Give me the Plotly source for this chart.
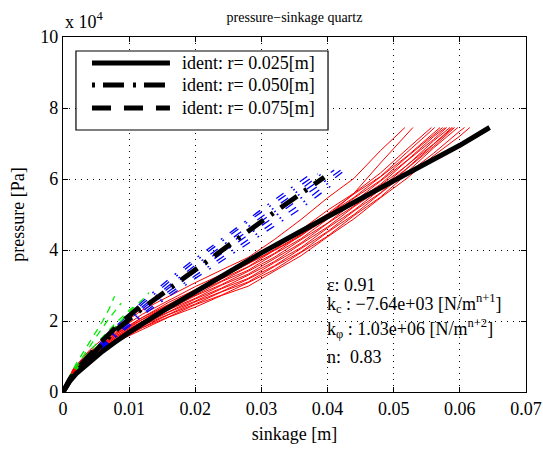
import plotly.graph_objects as go

# ---------------- data (pressure in units of 1e4 Pa) ----------------
red_z = [0, 0.0015, 0.004, 0.008, 0.012, 0.016, 0.020, 0.024, 0.028, 0.032,
         0.036, 0.040, 0.044, 0.048, 0.052, 0.056, 0.060]
red_p = [
    [0, 0.64, 1.18, 1.80, 2.31, 2.70, 3.08, 3.44, 3.79, 4.30, 4.86, 5.47, 6.02, 6.80],
    [0, 0.60, 1.10, 1.70, 2.19, 2.58, 2.97, 3.31, 3.62, 3.99, 4.40, 4.96, 5.60, 6.45],
    [0, 0.62, 1.13, 1.66, 2.10, 2.53, 2.88, 3.30, 3.63, 4.12, 4.57, 5.12, 5.60, 6.17, 6.84],
    [0, 0.60, 1.10, 1.62, 2.10, 2.47, 2.87, 3.22, 3.61, 4.02, 4.54, 5.02, 5.58, 6.07, 6.75, 7.41],
    [0, 0.61, 1.08, 1.63, 2.05, 2.46, 2.80, 3.19, 3.53, 4.00, 4.44, 4.99, 5.48, 6.05, 6.64, 7.29],
    [0, 0.58, 1.09, 1.58, 2.04, 2.41, 2.79, 3.13, 3.51, 3.91, 4.42, 4.89, 5.46, 5.96, 6.62, 7.22],
    [0, 0.59, 1.05, 1.58, 1.99, 2.39, 2.73, 3.11, 3.43, 3.89, 4.32, 4.87, 5.36, 5.94, 6.52, 7.19],
    [0, 0.56, 1.06, 1.54, 1.98, 2.33, 2.71, 3.03, 3.40, 3.80, 4.29, 4.76, 5.34, 5.85, 6.51, 7.11],
    [0, 0.57, 1.03, 1.54, 1.94, 2.32, 2.64, 3.01, 3.32, 3.77, 4.20, 4.75, 5.24, 5.82, 6.38, 7.07],
    [0, 0.54, 1.03, 1.50, 1.93, 2.26, 2.62, 2.93, 3.29, 3.68, 4.17, 4.65, 5.22, 5.72, 6.39, 6.98],
    [0, 0.55, 1.00, 1.49, 1.88, 2.25, 2.56, 2.91, 3.20, 3.65, 4.07, 4.62, 5.12, 5.70, 6.30, 6.97],
    [0, 0.52, 1.00, 1.45, 1.87, 2.19, 2.54, 2.83, 3.18, 3.56, 4.04, 4.52, 5.10, 5.61, 6.29, 6.91],
    [0, 0.53, 0.97, 1.45, 1.82, 2.18, 2.48, 2.82, 3.10, 3.54, 3.95, 4.50, 5.00, 5.59, 6.19, 6.87],
    [0, 0.50, 0.97, 1.41, 1.81, 2.12, 2.46, 2.73, 3.08, 3.45, 3.93, 4.39, 4.97, 5.49, 6.14, 6.72, 7.35],
    [0, 0.51, 0.94, 1.41, 1.76, 2.11, 2.39, 2.72, 2.98, 3.42, 3.84, 4.37, 4.88, 5.47, 6.02, 6.65, 7.21],
]
red_end_z = [0.0517, 0.0529, 0.0557, 0.0562, 0.0570, 0.0574, 0.0578, 0.0580, 0.0585,
             0.0588, 0.0590, 0.0592, 0.0597, 0.0607, 0.0615]
red_end_p = [7.45] * 15

blue_z = [0, 0.0015, 0.004, 0.008, 0.012, 0.016, 0.020, 0.024, 0.028, 0.032, 0.036]
blue_p = [
    [0, 0.50, 1.05, 1.85, 2.55, 3.18, 3.76, 4.32, 4.88, 5.42, 5.95],
    [0, 0.48, 1.00, 1.78, 2.48, 3.10, 3.68, 4.24, 4.80, 5.33, 5.85],
    [0, 0.46, 0.97, 1.72, 2.40, 3.00, 3.57, 4.12, 4.67, 5.20, 5.72],
    [0, 0.45, 0.94, 1.68, 2.34, 2.93, 3.48, 4.02, 4.55, 5.08, 5.60],
    [0, 0.44, 0.92, 1.63, 2.27, 2.84, 3.38, 3.90, 4.42, 4.94, 5.45],
    [0, 0.43, 0.90, 1.58, 2.20, 2.76, 3.28, 3.79, 4.30, 4.80, 5.30],
    [0, 0.42, 0.88, 1.55, 2.15, 2.69, 3.20, 3.70, 4.20, 4.68, 5.17],
]
blue_end_z = [0.0375, 0.0385, 0.0395, 0.0410, 0.0420, 0.0430, 0.0415]
blue_end_p = [6.15, 6.15, 6.20, 6.25, 6.25, 6.30, 5.95]

green_z = [
    [0, 0.001, 0.002, 0.003, 0.004, 0.005, 0.006, 0.007, 0.0078],
    [0, 0.001, 0.002, 0.003, 0.004, 0.005, 0.006, 0.007, 0.008, 0.0088],
    [0, 0.002, 0.004, 0.006, 0.008, 0.010, 0.011],
    [0, 0.002, 0.004, 0.006, 0.008, 0.010, 0.012, 0.013],
]
green_p = [
    [0, 0.45, 0.80, 1.10, 1.40, 1.70, 2.00, 2.35, 2.70],
    [0, 0.40, 0.72, 1.00, 1.28, 1.55, 1.82, 2.08, 2.32, 2.50],
    [0, 0.65, 1.15, 1.55, 1.95, 2.30, 2.45],
    [0, 0.60, 1.05, 1.45, 1.85, 2.25, 2.60, 2.80],
]

fit025_z = [0, 0.001, 0.002, 0.004, 0.006, 0.008, 0.010, 0.015, 0.020, 0.025,
            0.030, 0.035, 0.040, 0.045, 0.050, 0.055, 0.060, 0.0645]
fit025_p = [0, 0.30, 0.52, 0.85, 1.15, 1.42, 1.68, 2.27, 2.83, 3.38,
            3.92, 4.43, 4.95, 5.45, 5.95, 6.45, 6.95, 7.45]
fit050_z = [0, 0.001, 0.002, 0.004, 0.006, 0.008, 0.010, 0.012, 0.016, 0.020,
            0.024, 0.028, 0.032, 0.036, 0.0395]
fit050_p = [0, 0.32, 0.56, 0.98, 1.37, 1.74, 2.06, 2.36, 2.90, 3.43,
            3.97, 4.53, 5.07, 5.60, 6.05]
fit075_z = [0, 0.001, 0.002, 0.004, 0.006, 0.008, 0.010, 0.0125]
fit075_p = [0, 0.35, 0.62, 1.05, 1.45, 1.82, 2.15, 2.55]

legend_names = ["ident: r= 0.025[m]", "ident: r= 0.050[m]", "ident: r= 0.075[m]"]
x_ticks = [0, 0.01, 0.02, 0.03, 0.04, 0.05, 0.06, 0.07]
x_ticklabels = ["0", "0.01", "0.02", "0.03", "0.04", "0.05", "0.06", "0.07"]
y_ticks = [0, 2, 4, 6, 8, 10]
y_ticklabels = ["0", "2", "4", "6", "8", "10"]
info_lines = ["ε: 0.91",
              "k<sub>c</sub> : −7.64e+03 [N/m<sup>n+1</sup>]",
              "k<sub>φ</sub> : 1.03e+06 [N/m<sup>n+2</sup>]",
              "n:  0.83"]

# ---------------- figure ----------------
FONT = "Liberation Serif"
DASHDOT = "20px,9px,3px,9px"
DASHED = "19px,13px"

fig = go.Figure()

for p, ez, ep in zip(red_p, red_end_z, red_end_p):
    zs = red_z[:len(p)] + [ez]
    ps = p + [ep]
    fig.add_trace(go.Scatter(x=zs, y=ps, mode="lines", showlegend=False,
                             line=dict(color="#ff0000", width=1)))

for p, ez, ep in zip(blue_p, blue_end_z, blue_end_p):
    fig.add_trace(go.Scatter(x=blue_z + [ez], y=p + [ep], mode="lines", showlegend=False,
                             line=dict(color="#0000ff", width=1.3, dash="9px,9px,2px,9px")))

for zs, ps in zip(green_z, green_p):
    fig.add_trace(go.Scatter(x=zs, y=ps, mode="lines", showlegend=False,
                             line=dict(color="#00ee00", width=1.3, dash="7px,6px")))

fig.add_trace(go.Scatter(x=fit075_z, y=fit075_p, mode="lines", name=legend_names[2],
                         showlegend=False, line=dict(color="black", width=5, dash=DASHED)))
fig.add_trace(go.Scatter(x=fit050_z, y=fit050_p, mode="lines", name=legend_names[1],
                         showlegend=False, line=dict(color="black", width=5, dash=DASHDOT)))
fig.add_trace(go.Scatter(x=fit025_z, y=fit025_p, mode="lines", name=legend_names[0],
                         showlegend=False, line=dict(color="black", width=5)))

# custom legend box (MATLAB style with long line samples)
shapes = [dict(type="rect", xref="paper", yref="paper", x0=0.028, x1=0.5724,
               y0=0.738, y1=0.9606, line=dict(color="black", width=1.2),
               fillcolor="white", layer="above")]
leg_y = [0.9268, 0.8648, 0.800]
leg_dash = ["solid", "3px,8px,21px,9px", DASHED]
for yy, dd in zip(leg_y, leg_dash):
    shapes.append(dict(type="line", xref="paper", yref="paper", x0=0.0626, x1=0.231,
                       y0=yy, y1=yy, line=dict(color="black", width=5, dash=dd),
                       layer="above"))
annotations = []
for yy, nm in zip(leg_y, legend_names):
    annotations.append(dict(xref="paper", yref="paper", x=0.2527, y=yy, text=nm,
                            showarrow=False, xanchor="left", yanchor="middle",
                            font=dict(family=FONT, size=18, color="black")))

info_y = [0.302, 0.250, 0.180, 0.100]
for yy, t in zip(info_y, info_lines):
    annotations.append(dict(xref="paper", yref="paper", x=0.566, y=yy, text=t,
                            showarrow=False, xanchor="left", yanchor="middle",
                            font=dict(family=FONT, size=18, color="black")))

annotations.append(dict(xref="paper", yref="paper", x=0.0, y=1.0, yshift=3,
                        text="x 10<sup>4</sup>", showarrow=False, xanchor="left",
                        yanchor="bottom", font=dict(family=FONT, size=18, color="black")))

axis_common = dict(showline=True, linecolor="black", linewidth=1.2, mirror="ticks",
                   ticks="inside", ticklen=5, tickcolor="black", tickwidth=1,
                   showgrid=True, gridcolor="black", gridwidth=1, griddash="1px,5px",
                   zeroline=False, automargin=False,
                   tickfont=dict(family=FONT, size=18, color="black"))

fig.update_layout(
    width=543, height=450,
    margin=dict(l=63, r=17, t=37, b=58),
    paper_bgcolor="white", plot_bgcolor="white",
    title=dict(text="pressure−sinkage quartz", x=0.5, xref="paper", xanchor="center",
               y=1 - 17 / 450, yref="container", yanchor="middle",
               font=dict(family=FONT, size=14, color="black")),
    xaxis=dict(range=[0, 0.07], tickvals=x_ticks, ticktext=x_ticklabels,
               title=dict(text="sinkage [m]", standoff=9,
                          font=dict(family=FONT, size=18, color="black")),
               **axis_common),
    yaxis=dict(range=[0, 10], tickvals=y_ticks, ticktext=y_ticklabels,
               title=dict(text="pressure [Pa]", standoff=10,
                          font=dict(family=FONT, size=18, color="black")),
               **axis_common),
    shapes=shapes, annotations=annotations, showlegend=False,
)

fig.write_html("out.html",
               config={"displayModeBar": False},
               post_script="document.body.style.margin='0px';"
                           "document.body.style.overflow='hidden';")
